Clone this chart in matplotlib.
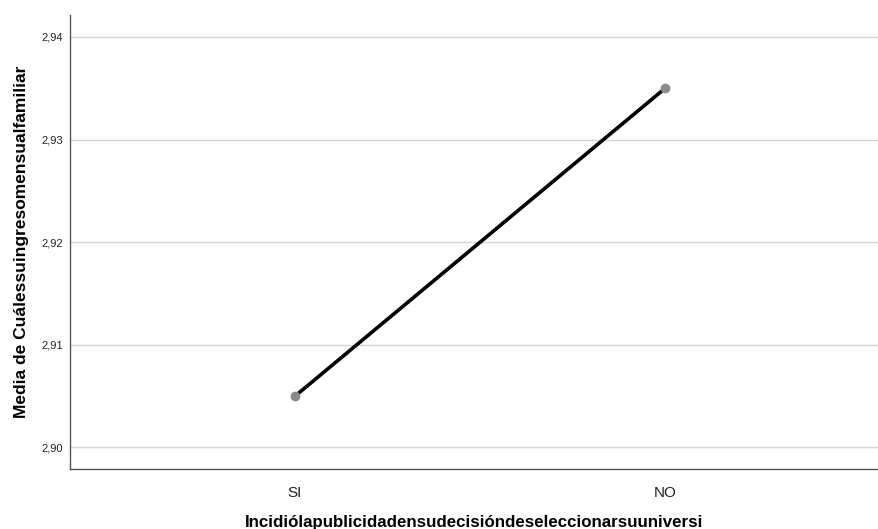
import matplotlib

matplotlib.use("Agg")
import matplotlib.pyplot as plt

plt.rcParams['font.family'] = ['Liberation Sans', 'DejaVu Sans']

# --- data ---
categories = ['SI', 'NO']
means = [2.905, 2.935]
yticks = [2.90, 2.91, 2.92, 2.93, 2.94]
ytick_labels = ['2,90', '2,91', '2,92', '2,93', '2,94']

fig = plt.figure(figsize=(8.79, 5.29), dpi=100)
ax = fig.add_axes([0.0796, 0.1134, 0.9204, 0.8582])

x = list(range(len(categories)))
ax.plot(x, means, color='black', linewidth=2.6, zorder=3)
ax.plot(x, means, linestyle='none', marker='o', markersize=6,
        color='#8a8a8a', zorder=4)

ax.set_xlim(-0.608, 1.578)
ax.set_ylim(2.8979, 2.94214)
ax.set_yticks(yticks)
ax.set_yticklabels(ytick_labels, fontsize=8)
ax.set_xticks(x)
ax.set_xticklabels(categories, fontsize=11)
ax.tick_params(axis='both', length=0, colors='#222222')
ax.tick_params(axis='y', pad=5)
ax.tick_params(axis='x', pad=12)

ax.grid(axis='y', color='#d4d4d4', linewidth=1.0)
ax.set_axisbelow(True)
for side in ['top', 'right']:
    ax.spines[side].set_visible(False)
for side in ['left', 'bottom']:
    ax.spines[side].set_color('#555555')
    ax.spines[side].set_linewidth(1.0)

ax.set_ylabel('Media de Cuálessuingresomensualfamiliar', fontsize=12.5,
              fontweight='bold', labelpad=9)
ax.set_xlabel('Incidiólapublicidadensudecisióndeseleccionarsuuniversi',
              fontsize=12.2, fontweight='bold', labelpad=11)

fig.savefig('out.png', dpi=100)
